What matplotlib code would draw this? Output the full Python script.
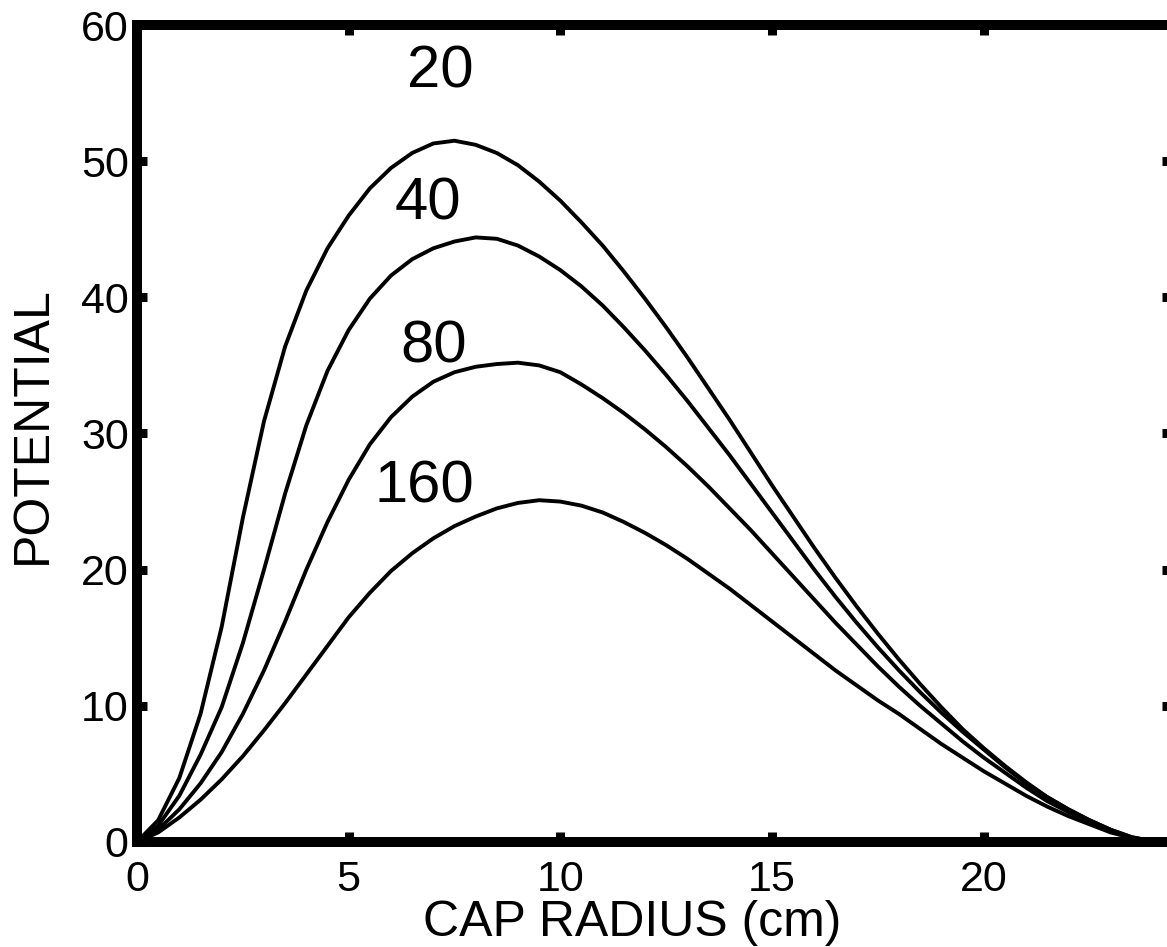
import matplotlib
matplotlib.use("Agg")
import matplotlib.pyplot as plt

# cap radius (cm), every 0.5 cm
radius = [0, 0.5, 1, 1.5, 2, 2.5, 3, 3.5, 4, 4.5, 5, 5.5, 6, 6.5, 7, 7.5, 8, 8.5,
          9, 9.5, 10, 10.5, 11, 11.5, 12, 12.5, 13, 13.5, 14, 14.5, 15, 15.5, 16,
          16.5, 17, 17.5, 18, 18.5, 19, 19.5, 20, 20.5, 21, 21.5, 22, 22.5, 23,
          23.5, 24]

pot_20 = [0, 1.6, 4.7, 9.4, 15.8, 23.8, 30.9, 36.4, 40.5, 43.6, 46.0, 48.0, 49.5,
          50.6, 51.3, 51.5, 51.2, 50.6, 49.7, 48.5, 47.1, 45.5, 43.8, 41.9, 39.9,
          37.8, 35.6, 33.3, 31.0, 28.6, 26.2, 23.9, 21.6, 19.4, 17.3, 15.3, 13.4,
          11.6, 9.9, 8.3, 6.9, 5.6, 4.4, 3.3, 2.4, 1.6, 0.9, 0.35, 0.05]

pot_40 = [0, 1.2, 3.4, 6.4, 9.9, 14.6, 20.0, 25.6, 30.6, 34.6, 37.6, 39.9, 41.6,
          42.8, 43.6, 44.1, 44.4, 44.3, 43.8, 43.0, 42.0, 40.8, 39.4, 37.8, 36.1,
          34.3, 32.4, 30.4, 28.4, 26.3, 24.2, 22.1, 20.0, 18.0, 16.1, 14.3, 12.6,
          11.0, 9.5, 8.1, 6.8, 5.5, 4.3, 3.3, 2.4, 1.6, 0.9, 0.35, 0.05]

pot_80 = [0, 0.9, 2.4, 4.3, 6.6, 9.4, 12.6, 16.2, 20.0, 23.5, 26.6, 29.2, 31.2,
          32.7, 33.8, 34.5, 34.9, 35.1, 35.2, 35.0, 34.5, 33.6, 32.6, 31.5, 30.3,
          29.0, 27.6, 26.1, 24.5, 22.9, 21.2, 19.5, 17.8, 16.1, 14.5, 12.9, 11.4,
          10.0, 8.7, 7.4, 6.2, 5.1, 4.0, 3.0, 2.2, 1.4, 0.8, 0.3, 0.05]

pot_160 = [0, 0.7, 1.8, 3.1, 4.6, 6.3, 8.2, 10.2, 12.3, 14.4, 16.5, 18.3, 19.9,
           21.2, 22.3, 23.2, 23.9, 24.5, 24.9, 25.1, 25.0, 24.7, 24.2, 23.5, 22.7,
           21.8, 20.8, 19.7, 18.6, 17.4, 16.2, 15.0, 13.8, 12.6, 11.5, 10.4, 9.4,
           8.3, 7.2, 6.2, 5.2, 4.3, 3.4, 2.6, 1.9, 1.3, 0.7, 0.3, 0.05]

labels = ["20", "40", "80", "160"]
label_x = [7.16, 6.87, 7.0, 6.78]
label_y = [55.4, 45.7, 35.2, 24.9]

plt.rcParams['font.family'] = ['Liberation Sans', 'DejaVu Sans']

fig = plt.figure(figsize=(11.67, 9.47), dpi=100)
ax = fig.add_axes([0.1174, 0.1109, 0.8869, 0.8627])

for pot in [pot_20, pot_40, pot_80, pot_160]:
    ax.plot(radius, pot, color='black', lw=2.8, solid_capstyle='round',
            solid_joinstyle='round')

for txt, lx, ly in zip(labels, label_x, label_y):
    ax.text(lx, ly, txt, fontsize=43, ha='center', va='baseline')

ax.set_xlim(0, 24.45)
ax.set_ylim(0, 60)
ax.set_xticks([0, 5, 10, 15, 20])
ax.set_yticks([0, 10, 20, 30, 40, 50, 60])

for sp in ax.spines.values():
    sp.set_linewidth(7.2)
    sp.set_capstyle('projecting')

ax.tick_params(direction='in', length=7.2, width=6.5, top=True, right=True,
               labelsize=31, colors='black')
ax.tick_params(axis='x', pad=13)
ax.tick_params(axis='y', pad=6)

ax.set_xlabel('CAP RADIUS (cm)', fontsize=36)
ax.xaxis.set_label_coords(0.478, -0.071, transform=ax.transAxes)
ax.xaxis.label.set_va('top')
ax.set_ylabel('POTENTIAL', fontsize=36)
ax.yaxis.set_label_coords(-0.078, 0.51, transform=ax.transAxes)

fig.savefig('out.png', dpi=100)
